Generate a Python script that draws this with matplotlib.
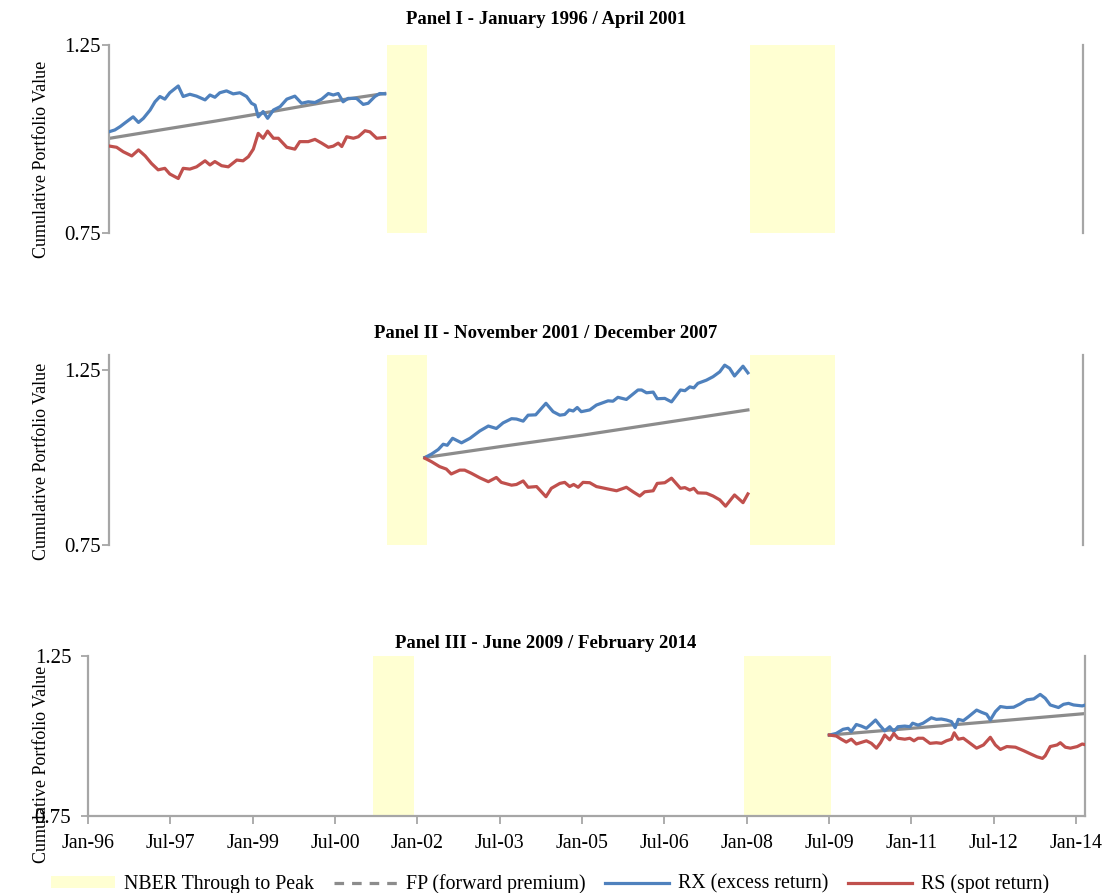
import matplotlib
matplotlib.use("Agg")
import matplotlib.pyplot as plt
from matplotlib.lines import Line2D
from matplotlib.patches import Patch

# month index 0 = Jan-96
tick_months = [0, 18, 36, 54, 72, 90, 108, 126, 144, 162, 180, 198, 216]
tick_labels = ["Jan-96", "Jul-97", "Jan-99", "Jul-00", "Jan-02", "Jul-03", "Jan-05",
               "Jul-06", "Jan-08", "Jul-09", "Jan-11", "Jul-12", "Jan-14"]
nber_spans = [(62.3, 71.2), (143.5, 162.4)]

titles = ["Panel I - January 1996 / April 2001",
          "Panel II - November 2001 / December 2007",
          "Panel III - June 2009 / February 2014"]

## Panel I
p1_rx_m = [0.2, 1.3, 2.5, 3.6, 5.4, 6.6, 7.7, 9.2, 10.3, 11.4, 12.5, 13.6, 15.5, 16.6, 18.1,
           19.6, 21.5, 22.6, 23.7, 24.8, 26.3, 27.8, 29.3, 30.8, 31.9, 32.7, 33.4, 34.5, 35.5,
           36.8, 38.3, 39.8, 41.6, 43.1, 44.6, 46.1, 47.6, 49.1, 50.2, 51.3, 52.4, 53.5, 55.4,
           56.9, 58.0, 59.5, 60.6, 61.7]
p1_rx = [1.020, 1.024, 1.033, 1.043, 1.059, 1.044, 1.055, 1.077, 1.099, 1.113, 1.106, 1.123,
         1.141, 1.113, 1.119, 1.114, 1.104, 1.117, 1.111, 1.123, 1.128, 1.120, 1.123, 1.113,
         1.095, 1.090, 1.059, 1.073, 1.055, 1.077, 1.086, 1.106, 1.114, 1.095, 1.099, 1.097,
         1.106, 1.121, 1.117, 1.121, 1.099, 1.108, 1.108, 1.092, 1.095, 1.113, 1.121, 1.120]
p1_rs_m = [0.2, 1.7, 3.2, 5.1, 6.6, 8.1, 9.5, 11.0, 12.5, 13.6, 15.5, 16.6, 18.1, 19.6, 21.5,
           22.6, 23.7, 25.2, 26.7, 28.6, 30.0, 31.2, 32.3, 33.4, 34.5, 35.5, 36.8, 37.9, 39.8,
           41.6, 42.7, 44.6, 46.1, 47.6, 49.1, 50.2, 51.3, 52.1, 53.2, 54.7, 55.8, 57.3, 58.4,
           59.9, 61.7]
p1_rs = [0.981, 0.978, 0.966, 0.955, 0.971, 0.955, 0.935, 0.918, 0.922, 0.907, 0.895, 0.922,
         0.920, 0.926, 0.942, 0.931, 0.940, 0.929, 0.926, 0.944, 0.942, 0.953, 0.973, 1.015,
         1.002, 1.021, 1.002, 1.002, 0.978, 0.973, 0.993, 0.993, 0.999, 0.989, 0.978, 0.981,
         0.989, 0.980, 1.006, 1.002, 1.006, 1.022, 1.019, 1.002, 1.004]
p1_fp_m = [0.2, 12, 24, 36, 48, 61.7]
p1_fp = [1.002, 1.025, 1.048, 1.072, 1.097, 1.121]

## Panel II
p2_rx_m = [70.7, 72.2, 73.7, 74.8, 75.7, 76.9, 78.9, 80.8, 83.0, 84.9, 86.7, 88.2, 90.1, 91.2,
           92.7, 93.8, 95.5, 97.8, 99.4, 100.9, 102.0, 103.0, 103.9, 104.8, 105.7, 107.6,
           109.1, 111.7, 112.8, 113.9, 115.8, 118.4, 119.2, 120.3, 121.8, 122.7, 124.4, 125.9,
           127.9, 128.9, 130.0, 130.9, 131.8, 133.7, 135.2, 136.7, 137.8, 138.9, 140.0, 141.9,
           143.0]
p2_rx = [1.000, 1.010, 1.023, 1.038, 1.035, 1.055, 1.042, 1.055, 1.076, 1.090, 1.083, 1.099,
         1.111, 1.110, 1.104, 1.121, 1.122, 1.155, 1.131, 1.121, 1.123, 1.136, 1.133, 1.143,
         1.131, 1.136, 1.150, 1.162, 1.161, 1.172, 1.166, 1.193, 1.193, 1.185, 1.187, 1.168,
         1.169, 1.159, 1.193, 1.191, 1.202, 1.199, 1.212, 1.221, 1.231, 1.245, 1.264, 1.255,
         1.233, 1.261, 1.242]
p2_rs_m = [70.7, 72.2, 74.0, 75.5, 76.6, 78.5, 79.6, 81.1, 83.0, 84.9, 86.7, 87.8, 90.1, 91.2,
           92.7, 93.8, 95.7, 97.8, 99.0, 100.9, 102.0, 103.1, 104.0, 105.0, 106.1, 107.6,
           109.1, 111.7, 113.6, 115.8, 117.3, 118.8, 119.9, 121.8, 122.7, 124.4, 125.9, 127.9,
           128.9, 130.0, 130.9, 131.8, 133.7, 135.2, 136.7, 138.0, 140.0, 141.9, 143.0]
p2_rs = [0.998, 0.988, 0.974, 0.967, 0.953, 0.964, 0.964, 0.955, 0.942, 0.931, 0.943, 0.929,
         0.921, 0.923, 0.933, 0.915, 0.917, 0.888, 0.912, 0.926, 0.929, 0.917, 0.923, 0.915,
         0.929, 0.928, 0.917, 0.910, 0.905, 0.915, 0.902, 0.890, 0.902, 0.905, 0.926, 0.928,
         0.941, 0.912, 0.914, 0.907, 0.912, 0.899, 0.898, 0.890, 0.879, 0.861, 0.893, 0.871,
         0.896]
p2_fp_m = [70.7, 88, 106, 124, 143.0]
p2_fp = [1.000, 1.032, 1.064, 1.099, 1.136]

## Panel III
p3_rx_m = [162.1, 163.6, 165.1, 166.2, 166.9, 168.0, 169.1, 170.2, 171.3, 172.2, 173.1, 174.2,
           175.3, 176.2, 177.1, 178.6, 179.7, 180.3, 181.5, 182.6, 184.4, 185.5, 186.6, 187.7,
           188.8, 189.6, 190.3, 191.4, 192.5, 194.3, 195.4, 196.5, 197.3, 198.4, 199.5, 200.9,
           202.4, 203.8, 205.3, 206.8, 208.2, 209.3, 210.4, 212.2, 213.3, 214.4, 215.5, 217.4,
           218.8]
p3_rx = [1.003, 1.008, 1.021, 1.024, 1.014, 1.036, 1.031, 1.024, 1.038, 1.050, 1.034, 1.016,
         1.029, 1.014, 1.029, 1.031, 1.029, 1.040, 1.034, 1.040, 1.057, 1.052, 1.053, 1.050,
         1.045, 1.026, 1.052, 1.048, 1.060, 1.081, 1.074, 1.068, 1.050, 1.076, 1.092, 1.089,
         1.090, 1.100, 1.113, 1.116, 1.130, 1.118, 1.097, 1.089, 1.099, 1.102, 1.097, 1.094,
         1.100]
p3_rs_m = [162.1, 163.6, 164.7, 165.8, 166.9, 168.0, 169.1, 170.2, 171.3, 172.4, 173.3, 174.2,
           175.3, 176.2, 177.1, 178.6, 179.7, 180.6, 181.5, 182.6, 184.1, 185.5, 186.6, 187.7,
           188.8, 189.4, 190.3, 191.4, 192.9, 194.3, 195.8, 197.3, 198.4, 199.5, 200.9, 202.8,
           204.6, 206.1, 207.5, 208.7, 209.3, 210.4, 211.9, 212.6, 213.7, 214.8, 216.3, 217.4,
           218.8]
p3_rs = [1.003, 1.000, 0.990, 0.981, 0.990, 0.975, 0.980, 0.985, 0.977, 0.962, 0.979, 1.003,
         0.988, 1.008, 0.993, 0.990, 0.993, 0.985, 0.993, 0.993, 0.977, 0.979, 0.977, 0.985,
         0.990, 1.010, 0.990, 0.993, 0.977, 0.962, 0.972, 0.996, 0.972, 0.958, 0.967, 0.965,
         0.954, 0.944, 0.935, 0.930, 0.938, 0.967, 0.972, 0.979, 0.965, 0.962, 0.967, 0.975,
         0.970]
p3_fp_m = [162.1, 180, 200, 218.8]
p3_fp = [1.003, 1.024, 1.048, 1.071]

panels = [
    (p1_fp_m, p1_fp, p1_rx_m, p1_rx, p1_rs_m, p1_rs),
    (p2_fp_m, p2_fp, p2_rx_m, p2_rx, p2_rs_m, p2_rs),
    (p3_fp_m, p3_fp, p3_rx_m, p3_rx, p3_rs_m, p3_rs),
]

BLUE = "#4F81BD"
RED = "#C0504D"
GRAY = "#8C8C8C"
SHADE = "#FFFFD2"
SPINE = "#A6A6A6"
SERIF = "Liberation Serif"

plt.rcParams["font.family"] = SERIF

fig = plt.figure(figsize=(11.04, 8.93), dpi=100)
W, H = 1104.0, 893.0

# pixel boxes: left, right, top, bottom
boxes = [(109, 1083, 45, 233), (109, 1083, 355, 545), (88, 1085, 656, 816)]
ylims = [(0.75, 1.25), (0.75, 1.293), (0.75, 1.25)]
title_y = [20, 333, 644]
ylabel_y = [159, 461, 764]

for i, (box, data) in enumerate(zip(boxes, panels)):
    l, r, t, b = box
    ax = fig.add_axes([l / W, 1 - b / H, (r - l) / W, (b - t) / H])
    fp_m, fp, rx_m, rx, rs_m, rs = data
    for s, e in nber_spans:
        ax.axvspan(s, e, color=SHADE, lw=0, zorder=0)
    ax.plot(fp_m, fp, color=GRAY, lw=2.3, zorder=2)
    ax.plot(rx_m, rx, color=BLUE, lw=2.3, zorder=3)
    ax.plot(rs_m, rs, color=RED, lw=2.3, zorder=3)

    ax.set_xlim(0, 218)
    ax.set_ylim(*ylims[i])
    ax.set_yticks([0.75, 1.25])
    ax.set_yticklabels(["0.75", "1.25"], fontsize=15)
    ax.tick_params(axis="y", direction="out", length=5, width=1.3, color=SPINE,
                   pad=1 if i < 2 else 7)

    ax.spines["top"].set_visible(False)
    for side in ["left", "right"]:
        ax.spines[side].set_color(SPINE)
        ax.spines[side].set_linewidth(1.6)
    if i < 2:
        ax.spines["bottom"].set_visible(False)
        ax.set_xticks([])
    else:
        ax.spines["bottom"].set_color(SPINE)
        ax.spines["bottom"].set_linewidth(1.6)
        ax.set_xticks(tick_months)
        ax.set_xticklabels(tick_labels, fontsize=14.3)
        ax.tick_params(axis="x", direction="out", length=6, width=1.3, color=SPINE, pad=7)

    fig.text(546 / W, 1 - title_y[i] / H, titles[i], ha="center", va="center",
             fontsize=13.5, fontweight="bold")
    fig.text(42 / W, 1 - ylabel_y[i] / H, "Cumulative Portfolio Value", ha="center",
             va="center", rotation=90, fontsize=13)

handles = [
    Patch(facecolor=SHADE, edgecolor="none"),
    Line2D([], [], color=GRAY, lw=2.3, ls=(0, (3, 2.5))),
    Line2D([], [], color=BLUE, lw=2.3),
    Line2D([], [], color=RED, lw=2.3),
]
labels = ["NBER Through to Peak", "FP (forward premium)", "RX (excess return)", "RS (spot return)"]
fig.legend(handles, labels, loc="center", bbox_to_anchor=(550 / W, 1 - 884 / H), ncol=4,
           frameon=False, fontsize=14.3, handlelength=3.2, handleheight=0.5,
           handletextpad=0.45, columnspacing=1.0, borderaxespad=0)

fig.savefig("out.png", dpi=100)
